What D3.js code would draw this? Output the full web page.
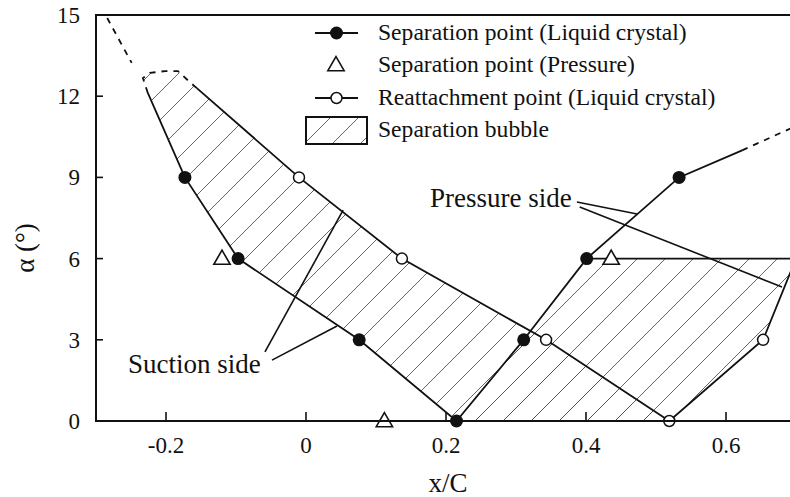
<!DOCTYPE html>
<html>

<head>
	<title>Separation and reattachment points</title>
	<meta charset="utf-8">
	<script src="https://d3js.org/d3.v7.min.js"></script>
	<style>
		body {
			padding: 0;
			margin: 0;
			background: #fff;
		}

		svg text {
			font-family: "Liberation Serif", "Times New Roman", serif;
			fill: #111;
		}

		.frame {
			stroke: #111;
			stroke-width: 2;
			fill: none;
		}

		.curve {
			stroke: #111;
			stroke-width: 1.8;
			fill: none;
		}

		.leader {
			stroke: #111;
			stroke-width: 1.6;
			fill: none;
		}
	</style>
</head>

<body>
	<div id="graph"></div>
	<script>
		// axis ticks
		var xTicks = [-0.2, 0, 0.2, 0.4, 0.6];
		var yTicks = [0, 3, 6, 9, 12, 15];

		// separation point (liquid crystal), filled dots
		var sepLcX = [-0.173, -0.097, 0.076, 0.215, 0.311, 0.401, 0.533];
		var sepLcA = [9, 6, 3, 0, 3, 6, 9];

		// separation point (pressure), triangles
		var sepPrX = [-0.12, 0.112, 0.436];
		var sepPrA = [6, 0, 6];

		// reattachment point (liquid crystal), open circles
		var reLcX = [-0.01, 0.137, 0.343, 0.519, 0.653];
		var reLcA = [9, 6, 3, 0, 3];

		// boundary lines (x/C, alpha)
		var suctionSep = [[-0.226, 12.12], [-0.173, 9], [-0.097, 6], [0.076, 3], [0.215, 0]];
		var suctionRe = [[-0.156, 12.3], [-0.01, 9], [0.137, 6], [0.343, 3], [0.519, 0]];
		var pressureSep = [[0.215, 0], [0.311, 3], [0.401, 6], [0.533, 9], [0.623, 10.0]];
		var pressureSepExt = [[0.623, 10.0], [0.70, 10.9]];
		var pressureRe = [[0.519, 0], [0.653, 3], [0.70, 6]];
		var pressureTop = [[0.401, 6], [0.70, 6]];
		var suctionExt = [[-0.284, 14.89], [-0.249, 13.23]];
		var suctionCap = [[-0.226, 12.12], [-0.233, 12.67], [-0.223, 12.86], [-0.201, 12.93], [-0.183, 12.93], [-0.166, 12.52], [-0.156, 12.3]];

		// annotation leaders
		var suctionLeaders = [[[-0.0586, 2.55], [0.053, 7.79]], [[-0.0486, 2.25], [0.0443, 3.51]]];
		var pressureLeaders = [[[0.387, 8.09], [0.473, 7.65]], [[0.391, 7.91], [0.68, 4.95]]];

		var legendLabels = ["Separation point (Liquid crystal)", "Separation point (Pressure)",
			"Reattachment point (Liquid crystal)", "Separation bubble"];

		var width = 790, height = 497;
		var margin = { top: 15, left: 96, bottom: 76 };

		var svg = d3.select("#graph").append("svg")
			.attr("width", width)
			.attr("height", height);

		var x = d3.scaleLinear().domain([-0.3, 0.7]).range([margin.left, margin.left + 700]);
		var y = d3.scaleLinear().domain([0, 15]).range([height - margin.bottom, margin.top]);

		var line = d3.line()
			.x(function (d) { return x(d[0]); })
			.y(function (d) { return y(d[1]); });

		// hatch pattern for the bubbles
		var defs = svg.append("defs");
		var pat = defs.append("pattern")
			.attr("id", "hatch")
			.attr("patternUnits", "userSpaceOnUse")
			.attr("width", 28)
			.attr("height", 28);
		pat.append("path")
			.attr("d", "M-7,7 L7,-7 M0,28 L28,0 M21,35 L35,21")
			.attr("stroke", "#555")
			.attr("stroke-width", 0.9);

		defs.append("clipPath").attr("id", "plotclip")
			.append("rect")
			.attr("x", x(-0.3)).attr("y", y(15))
			.attr("width", x(0.7) - x(-0.3)).attr("height", y(0) - y(15));

		var plot = svg.append("g").attr("clip-path", "url(#plotclip)");

		// bubbles
		var suctionBubble = suctionSep.concat(suctionRe.slice().reverse(), suctionCap.slice().reverse());
		var pressureBubble = pressureSep.slice(0, 3).concat(pressureRe.slice().reverse());
		[suctionBubble, pressureBubble].forEach(function (poly) {
			plot.append("path")
				.attr("d", line(poly) + "Z")
				.attr("fill", "url(#hatch)")
				.attr("stroke", "none");
		});

		// solid boundaries
		[suctionSep, suctionRe, pressureSep, pressureRe, pressureTop].forEach(function (pts) {
			plot.append("path").attr("class", "curve").attr("d", line(pts));
		});

		// dashed extrapolations
		[suctionExt, suctionCap, pressureSepExt].forEach(function (pts) {
			plot.append("path").attr("class", "curve")
				.attr("stroke-dasharray", "6,6")
				.attr("d", line(pts));
		});

		// markers (not clipped, so the ones on the axis stay whole)
		var marks = svg.append("g");
		var tri = d3.symbol().type(d3.symbolTriangle).size(115);

		marks.selectAll(".sepPr")
			.data(sepPrX.map(function (v, i) { return [v, sepPrA[i]]; }))
			.enter().append("path")
			.attr("transform", function (d) { return "translate(" + x(d[0]) + "," + (y(d[1]) + 1) + ")"; })
			.attr("d", tri)
			.attr("fill", "#fff")
			.attr("stroke", "#111")
			.attr("stroke-width", 1.6);

		marks.selectAll(".reLc")
			.data(reLcX.map(function (v, i) { return [v, reLcA[i]]; }))
			.enter().append("circle")
			.attr("cx", function (d) { return x(d[0]); })
			.attr("cy", function (d) { return y(d[1]); })
			.attr("r", 5.5)
			.attr("fill", "#fff")
			.attr("stroke", "#111")
			.attr("stroke-width", 1.5);

		marks.selectAll(".sepLc")
			.data(sepLcX.map(function (v, i) { return [v, sepLcA[i]]; }))
			.enter().append("circle")
			.attr("cx", function (d) { return x(d[0]); })
			.attr("cy", function (d) { return y(d[1]); })
			.attr("r", 6.5)
			.attr("fill", "#111");

		// annotations
		suctionLeaders.concat(pressureLeaders).forEach(function (pts) {
			svg.append("path").attr("class", "leader").attr("d", line(pts));
		});
		svg.append("text")
			.attr("x", 128).attr("y", 373)
			.attr("font-size", 27)
			.text("Suction side");
		svg.append("text")
			.attr("x", 430).attr("y", 207)
			.attr("font-size", 27)
			.text("Pressure side");

		// frame: left, bottom, top
		svg.append("path").attr("class", "frame")
			.attr("d", "M" + width + "," + y(15) + "H" + x(-0.3) + "V" + y(0) + "H" + width);

		// ticks (inward) and labels
		svg.selectAll(".xt")
			.data(xTicks)
			.enter().append("line")
			.attr("x1", function (d) { return x(d); }).attr("x2", function (d) { return x(d); })
			.attr("y1", y(0)).attr("y2", y(0) - 9)
			.attr("stroke", "#111").attr("stroke-width", 1.6);
		svg.selectAll(".xl")
			.data(xTicks)
			.enter().append("text")
			.attr("x", function (d) { return x(d); })
			.attr("y", 453)
			.attr("text-anchor", "middle")
			.attr("font-size", 23)
			.text(function (d) { return d === 0 ? "0" : d3.format(".1f")(d).replace("−", "-"); });

		svg.selectAll(".yt")
			.data(yTicks.slice(1, -1))
			.enter().append("line")
			.attr("x1", x(-0.3)).attr("x2", x(-0.3) + 7)
			.attr("y1", function (d) { return y(d); }).attr("y2", function (d) { return y(d); })
			.attr("stroke", "#111").attr("stroke-width", 1.6);
		svg.selectAll(".yl")
			.data(yTicks)
			.enter().append("text")
			.attr("x", 80)
			.attr("y", function (d) { return y(d) + 8; })
			.attr("text-anchor", "end")
			.attr("font-size", 23)
			.text(function (d) { return d; });

		// axis titles
		svg.append("text")
			.attr("x", 448).attr("y", 492)
			.attr("text-anchor", "middle")
			.attr("font-size", 27)
			.text("x/C");
		svg.append("text")
			.attr("transform", "translate(34,248) rotate(-90)")
			.attr("text-anchor", "middle")
			.attr("font-size", 27)
			.text("α (°)");

		// legend
		var lg = svg.append("g");
		var rowY = [33, 65, 98, 130];
		lg.append("line").attr("x1", 315).attr("x2", 358).attr("y1", rowY[0]).attr("y2", rowY[0])
			.attr("stroke", "#111").attr("stroke-width", 1.8);
		lg.append("circle").attr("cx", 336.5).attr("cy", rowY[0]).attr("r", 6.5).attr("fill", "#111");
		lg.append("path").attr("d", tri).attr("transform", "translate(336," + (rowY[1] + 1) + ")")
			.attr("fill", "#fff").attr("stroke", "#111").attr("stroke-width", 1.6);
		lg.append("line").attr("x1", 315).attr("x2", 358).attr("y1", rowY[2]).attr("y2", rowY[2])
			.attr("stroke", "#111").attr("stroke-width", 1.8);
		lg.append("circle").attr("cx", 336.5).attr("cy", rowY[2]).attr("r", 5.5)
			.attr("fill", "#fff").attr("stroke", "#111").attr("stroke-width", 1.5);
		lg.append("rect").attr("x", 306).attr("y", 117).attr("width", 61).attr("height", 27)
			.attr("fill", "url(#hatch)").attr("stroke", "#111").attr("stroke-width", 2);
		lg.selectAll(".lt")
			.data(legendLabels)
			.enter().append("text")
			.attr("x", 378)
			.attr("y", function (d, i) { return rowY[i] + 7; })
			.attr("font-size", 23.6)
			.text(function (d) { return d; });
	</script>
</body>

</html>
